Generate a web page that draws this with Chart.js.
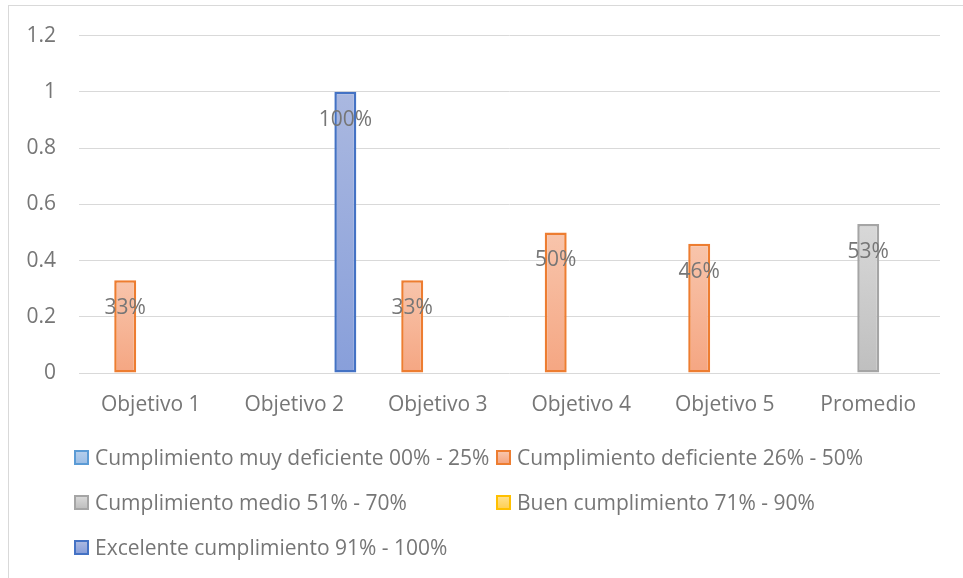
<!DOCTYPE html>
<html>
<head>
<meta charset="utf-8">
<script src="https://cdn.jsdelivr.net/npm/chart.js@4/dist/chart.umd.min.js"></script>
<style>
  html, body { margin: 0; padding: 0; background: #fff; }
  #wrap { position: relative; width: 963px; height: 578px; overflow: hidden; }
  #frame { position: absolute; left: 8px; top: 5px; right: -2px; bottom: -2px;
           border-left: 1px solid #d9d9d9; border-top: 1px solid #d9d9d9; }
  #chart { position: absolute; left: 0; top: 0; }
  #legend { position: absolute; left: 0; top: 0; width: 963px; height: 578px; pointer-events: none; }
  .item { position: absolute; height: 24px; display: flex; align-items: center;
          font: 21px "Open Sans", sans-serif; color: #767676; white-space: nowrap; }
  .box { width: 11px; height: 11px; border: 2px solid; margin-right: 6px; flex: none; }
</style>
</head>
<body>
<div id="wrap">
  <div id="frame"></div>
  <canvas id="chart" width="963" height="578"></canvas>
  <div id="legend"></div>
</div>
<script>
// ---- data ----
const categories = ['Objetivo 1', 'Objetivo 2', 'Objetivo 3', 'Objetivo 4', 'Objetivo 5', 'Promedio'];
const seriesNames = [
  'Cumplimiento muy deficiente 00% - 25%',
  'Cumplimiento deficiente 26% - 50%',
  'Cumplimiento medio 51% - 70%',
  'Buen cumplimiento 71% - 90%',
  'Excelente cumplimiento 91% - 100%'
];
const muyDeficiente = [null, null, null, null, null, null];
const deficiente    = [0.33, null, 0.33, 0.50, 0.46, null];
const medio         = [null, null, null, null, null, 0.53];
const bueno         = [null, null, null, null, null, null];
const excelente     = [null, 1.00, null, null, null, null];
const yTicks = [0, 0.2, 0.4, 0.6, 0.8, 1, 1.2];

// ---- styling ----
const TEXT = '#767676';
const FONT = '"Open Sans", sans-serif';
const palette = [
  { border: '#5b9bd5', top: '#b4cdeb', bottom: '#9dbfe6' },
  { border: '#ed7d31', top: '#f8c5ac', bottom: '#f5a682' },
  { border: '#a5a5a5', top: '#d8d8d8', bottom: '#bfbfbf' },
  { border: '#ffc000', top: '#ffe08a', bottom: '#ffd055' },
  { border: '#4472c4', top: '#aab8e0', bottom: '#889fda' }
];

function barGradient(c) {
  const p = palette[c.datasetIndex];
  const chart = c.chart;
  if (!chart.chartArea || c.parsed == null || c.parsed.y == null) return p.bottom;
  const y = chart.scales.y;
  const top = y.getPixelForValue(c.parsed.y);
  const bottom = y.getPixelForValue(0);
  const g = chart.ctx.createLinearGradient(0, top, 0, bottom);
  g.addColorStop(0, p.top);
  g.addColorStop(1, p.bottom);
  return g;
}

const allSeries = [muyDeficiente, deficiente, medio, bueno, excelente];

// percent labels inside the top of each bar
const valueLabels = {
  id: 'valueLabels',
  afterDatasetsDraw(chart) {
    const ctx = chart.ctx;
    ctx.save();
    ctx.font = '21px ' + FONT;
    ctx.fillStyle = TEXT;
    ctx.textAlign = 'center';
    ctx.textBaseline = 'middle';
    chart.data.datasets.forEach((ds, i) => {
      const meta = chart.getDatasetMeta(i);
      meta.data.forEach((bar, j) => {
        const v = ds.data[j];
        if (v == null) return;
        ctx.fillText(Math.round(v * 100) + '%', bar.x, bar.y + 28);
      });
    });
    ctx.restore();
  }
};

// html legend laid out in two columns like the original
const gridLegend = {
  id: 'gridLegend',
  afterUpdate(chart) {
    const host = document.getElementById('legend');
    host.innerHTML = '';
    const cols = [74, 496];
    const rows = [457, 502, 547];
    chart.data.datasets.forEach((ds, i) => {
      const p = palette[i];
      const el = document.createElement('div');
      el.className = 'item';
      el.style.left = cols[i % 2] + 'px';
      el.style.top = (rows[Math.floor(i / 2)] - 12) + 'px';
      const box = document.createElement('span');
      box.className = 'box';
      box.style.borderColor = p.border;
      box.style.background = 'linear-gradient(' + p.top + ',' + p.bottom + ')';
      const txt = document.createElement('span');
      txt.textContent = ds.label;
      el.appendChild(box);
      el.appendChild(txt);
      host.appendChild(el);
    });
  }
};

new Chart(document.getElementById('chart'), {
  type: 'bar',
  data: {
    labels: categories,
    datasets: allSeries.map((data, i) => ({
      label: seriesNames[i],
      data: data,
      backgroundColor: barGradient,
      borderColor: palette[i].border,
      borderWidth: 2.5,
      borderSkipped: false,
      barPercentage: 0.86,
      categoryPercentage: 0.89
    }))
  },
  options: {
    responsive: false,
    devicePixelRatio: 1,
    animation: false,
    layout: { padding: { top: 35, right: 23, left: 0, bottom: 0 } },
    plugins: {
      legend: { display: false },
      tooltip: { enabled: false }
    },
    scales: {
      x: {
        grid: { display: false, drawTicks: false },
        border: { display: false },
        ticks: { color: TEXT, font: { family: FONT, size: 21 }, padding: 19 },
        afterFit(scale) { scale.height = 205; }
      },
      y: {
        min: 0,
        max: 1.2,
        afterBuildTicks(scale) { scale.ticks = yTicks.map(v => ({ value: v })); },
        grid: { color: '#d9d9d9', lineWidth: 1, drawTicks: false },
        border: { display: false },
        ticks: {
          color: TEXT,
          font: { family: FONT, size: 21 },
          padding: 23,
          callback: v => String(+v.toFixed(1))
        },
        afterFit(scale) { scale.width = 79; }
      }
    }
  },
  plugins: [valueLabels, gridLegend]
});
</script>
</body>
</html>
